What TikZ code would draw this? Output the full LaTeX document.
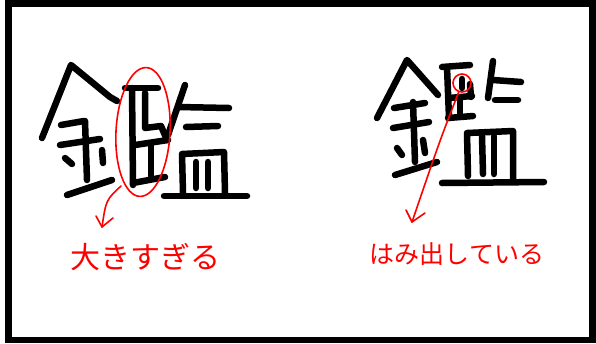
\documentclass[tikz,border=0pt]{standalone}
\usepackage{fontspec}
\newfontfamily\jpfont{Noto Sans CJK JP}
\usetikzlibrary{calc}
\definecolor{pen}{RGB}{255,0,0}
\tikzset{
  brush/.style={line width=6.5pt, line cap=round, line join=round, black},
  redpen/.style={line width=1.6pt, pen, line cap=round, line join=round},
  lbl/.style={text=pen, inner sep=0pt, font=\jpfont},
}
\begin{document}
\begin{tikzpicture}[x=1pt,y=-1pt]
\useasboundingbox (0,0) rectangle (596,343);
\fill[white] (0,0) rectangle (596,343);
% frame
\draw[line width=6.5pt] (8.5,3.5) rectangle (592.5,340);

% ---------- left kanji ----------
% kane
\draw[brush] (42,138) -- (71,65) -- (110,97) -- (117,101);
\draw[brush] (61,125) -- (84,121);
\draw[brush] (85,121) -- (87,180);
\draw[brush] (60,145) -- (100,139);
\draw[brush] (65,158) -- (72,164);
\draw[brush] (102,150) -- (103,163);
\draw[brush] (67,195) -- (112,180);
% shin
\draw[brush] (125,88) -- (158,88);
\draw[brush] (132,88) -- (133,185);
\draw[brush] (145,93) -- (145,128) -- (161,126) -- (167,140);
\draw[brush] (135,145) -- (168,140);
\draw[brush] (151,144) -- (151,176);
\draw[brush] (133,183) -- (165,177);
% right top
\draw[brush] (185,85) -- (168,135);
\draw[brush] (178,107) -- (229,108);
\draw[brush] (186,127) -- (218,126);
% sara
\draw[brush] (183,193) -- (182,154) -- (224,152) -- (225,193);
\draw[brush] (196,162) -- (196,188);
\draw[brush] (208,162) -- (208,188);
\draw[brush] (164,196) -- (247,196);

% red ellipse and arrow
\coordinate (bigE) at (143,132);
\draw[redpen, rotate around={-3:(bigE)}] (bigE) ellipse [x radius=27, y radius=64.5];
\coordinate (startL) at (121,186);
\coordinate (tipL) at (102,227);
\draw[redpen] (startL) .. controls (106,200) .. (tipL);
\draw[redpen] ($(tipL)+(-6,-11)$) -- (tipL) -- ($(tipL)+(11,-9)$);
\node[lbl, font=\jpfont\fontsize{30}{30}\selectfont] (labL) at (145,257) {大きすぎる};

% ---------- right kanji ----------
\draw[brush] (377,118) -- (407,60) -- (438,95);
\draw[brush] (394,108) -- (425,103);
\draw[brush] (413,102) -- (415,162);
\draw[brush] (393,128) -- (429,122);
\draw[brush] (397,148) -- (402,155);
\draw[brush] (423,140) -- (425,153);
\draw[brush] (395,175) -- (437,162);
% shin
\draw[brush] (442,67) -- (470,65);
\draw[brush] (447,67) -- (449,118);
\draw[brush] (462,79) -- (462,88);
\draw[brush] (470,84) -- (471,97);
\draw[brush] (449,98) -- (472,96);
\draw[brush] (460,99) -- (460,116);
\draw[brush] (448,118) -- (473,116);
% right top
\draw[brush] (493,61) -- (488,98);
\draw[brush] (493,80) -- (521,82);
\draw[brush] (495,100) -- (518,100);
% sara
\draw[brush] (468,176) -- (467,133) -- (513,131) -- (513,181);
\draw[brush] (482,136) -- (483,174);
\draw[brush] (494,136) -- (494,174);
\draw[brush] (442,183) -- (544,182);

% red circle and arrow
\node[draw=pen, line width=1.6pt, circle, minimum size=18pt, inner sep=0pt] (smallC) at (462,83) {};
\coordinate (tipR) at (412,222);
\draw[redpen] (smallC.-110) .. controls (440,140) .. (tipR);
\draw[redpen] ($(tipR)+(-6,-12)$) -- (tipR) -- ($(tipR)+(13,-9)$);
\node[lbl, font=\jpfont\fontsize{25}{25}\selectfont] (labR) at (457,254) {はみ出している};
\end{tikzpicture}
\end{document}
